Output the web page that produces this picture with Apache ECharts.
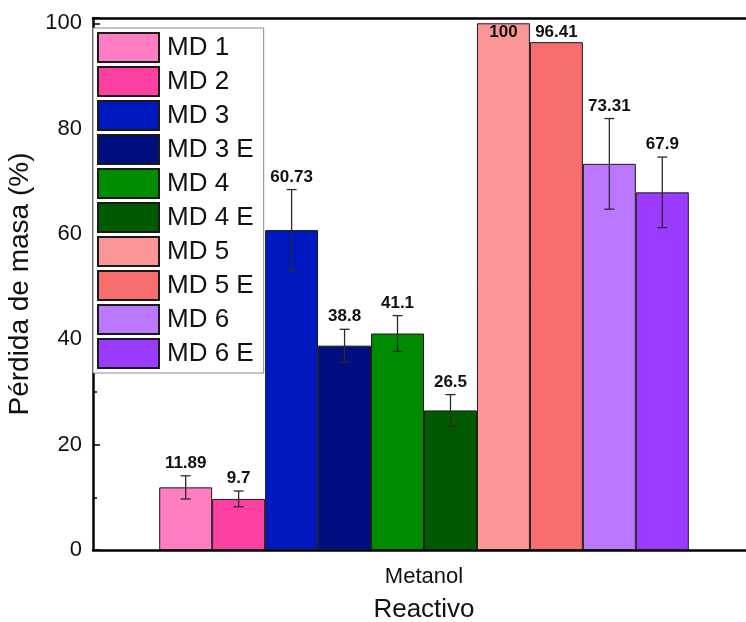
<!DOCTYPE html>
<html>
<head>
<meta charset="utf-8">
<script src="https://cdn.jsdelivr.net/npm/echarts@6/dist/echarts.min.js"></script>
<style>
  html, body { margin: 0; padding: 0; background: #fff; }
  #main { width: 746px; height: 622px; }
</style>
</head>
<body>
<div id="main"></div>
<script>
// datos
var categories = ['Metanol'];
var seriesNames = ['MD 1', 'MD 2', 'MD 3', 'MD 3 E', 'MD 4', 'MD 4 E', 'MD 5', 'MD 5 E', 'MD 6', 'MD 6 E'];
var perdida = [11.89, 9.7, 60.73, 38.8, 41.1, 26.5, 100, 96.41, 73.31, 67.9];
var errores = [2.2, 1.5, 7.7, 3.1, 3.4, 3.0, 0, 0, 8.6, 6.7];
var yTicks = [0, 20, 40, 60, 80, 100];

var colores = ['#FF7DC0', '#FF40A3', '#0018BF', '#000F7F', '#008C00', '#005A00',
  '#FA9696', '#F86D6D', '#BB77FF', '#9A3BFF'];

var FONT = 'Liberation Sans, Arial, sans-serif';
var chart = echarts.init(document.getElementById('main'), null, { renderer: 'canvas' });

var series = seriesNames.map(function (n, i) {
  return {
    name: n,
    type: 'bar',
    barGap: '0%',
    barCategoryGap: '20%',
    data: [perdida[i]],
    itemStyle: { color: colores[i], borderColor: '#1a1a1a', borderWidth: 1 }
  };
});

// barras de error + etiquetas
series.push({
  type: 'custom',
  z: 5,
  encode: { x: 0, y: 1 },
  data: perdida.map(function (v, i) { return [0, v, errores[i], i]; }),
  renderItem: function (params, api) {
    var idx = api.value(3);
    var v = api.value(1);
    var e = api.value(2);
    var layout = api.barLayout({ barGap: '0%', barCategoryGap: '20%', count: seriesNames.length });
    var base = api.coord([api.value(0), v]);
    var x = base[0] + layout[idx].offsetCenter;
    var hi = api.coord([0, v + e])[1];
    var lo = api.coord([0, v - e])[1];
    var children = [];
    if (e > 0) {
      var st = { stroke: '#2b2b2b', lineWidth: 1.3 };
      children.push({ type: 'line', shape: { x1: x, y1: hi, x2: x, y2: lo }, style: st });
      children.push({ type: 'line', shape: { x1: x - 5, y1: hi, x2: x + 5, y2: hi }, style: st });
      children.push({ type: 'line', shape: { x1: x - 5, y1: lo, x2: x + 5, y2: lo }, style: st });
    }
    var ty = Math.max(hi - 4, params.coordSys.y + 23);
    children.push({
      type: 'text',
      style: {
        x: x, y: ty, text: String(perdida[idx]),
        align: 'center', verticalAlign: 'bottom',
        font: 'bold 17px ' + FONT, fill: '#111'
      }
    });
    return { type: 'group', children: children };
  },
  silent: true
});

var option = {
  animation: false,
  backgroundColor: '#fff',
  textStyle: { fontFamily: FONT },
  legend: {
    data: seriesNames,
    orient: 'vertical',
    left: 93,
    top: 28,
    itemWidth: 61,
    itemHeight: 29,
    itemGap: 3,
    padding: [4, 10, 4, 4],
    icon: 'rect',
    backgroundColor: '#fff',
    borderColor: '#8a8a8a',
    borderWidth: 1,
    z: 10,
    textStyle: { fontSize: 26, color: '#111', fontFamily: FONT, padding: [0, 0, 0, 3] }
  },
  grid: { left: 93, top: 18, bottom: 72, width: 662, containLabel: false, outerBoundsMode: 'none' },
  xAxis: [{
    type: 'category',
    data: categories,
    axisLine: { lineStyle: { color: '#000', width: 2.5 } },
    axisTick: { show: false },
    axisLabel: { fontSize: 22, color: '#111', margin: 16, fontFamily: FONT },
    name: 'Reactivo',
    nameLocation: 'middle',
    nameGap: 47,
    nameTextStyle: { fontSize: 26, color: '#111', fontFamily: FONT }
  }, {
    type: 'category',
    position: 'top',
    data: categories,
    axisLine: { lineStyle: { color: '#000', width: 2.5 } },
    axisTick: { show: false },
    axisLabel: { show: false }
  }],
  yAxis: {
    type: 'value',
    min: 0,
    max: 101,
    interval: 20,
    splitLine: { show: false },
    axisLine: { show: true, lineStyle: { color: '#000', width: 2.5 } },
    axisTick: { show: true, inside: true, length: 7, lineStyle: { color: '#000', width: 1.5 } },
    minorTick: { show: true, splitNumber: 2, length: 4, lineStyle: { color: '#000', width: 1.5 } },
    axisLabel: {
      fontSize: 22, color: '#111', margin: 11, fontFamily: FONT,
      showMaxLabel: false,
      formatter: function (v) { return yTicks.indexOf(v) >= 0 ? String(v) : ''; }
    },
    name: 'Pérdida de masa (%)',
    nameLocation: 'middle',
    nameGap: 53,
    nameTextStyle: { fontSize: 28, color: '#111', fontFamily: FONT }
  },
  series: series
};

chart.setOption(option);
</script>
</body>
</html>
